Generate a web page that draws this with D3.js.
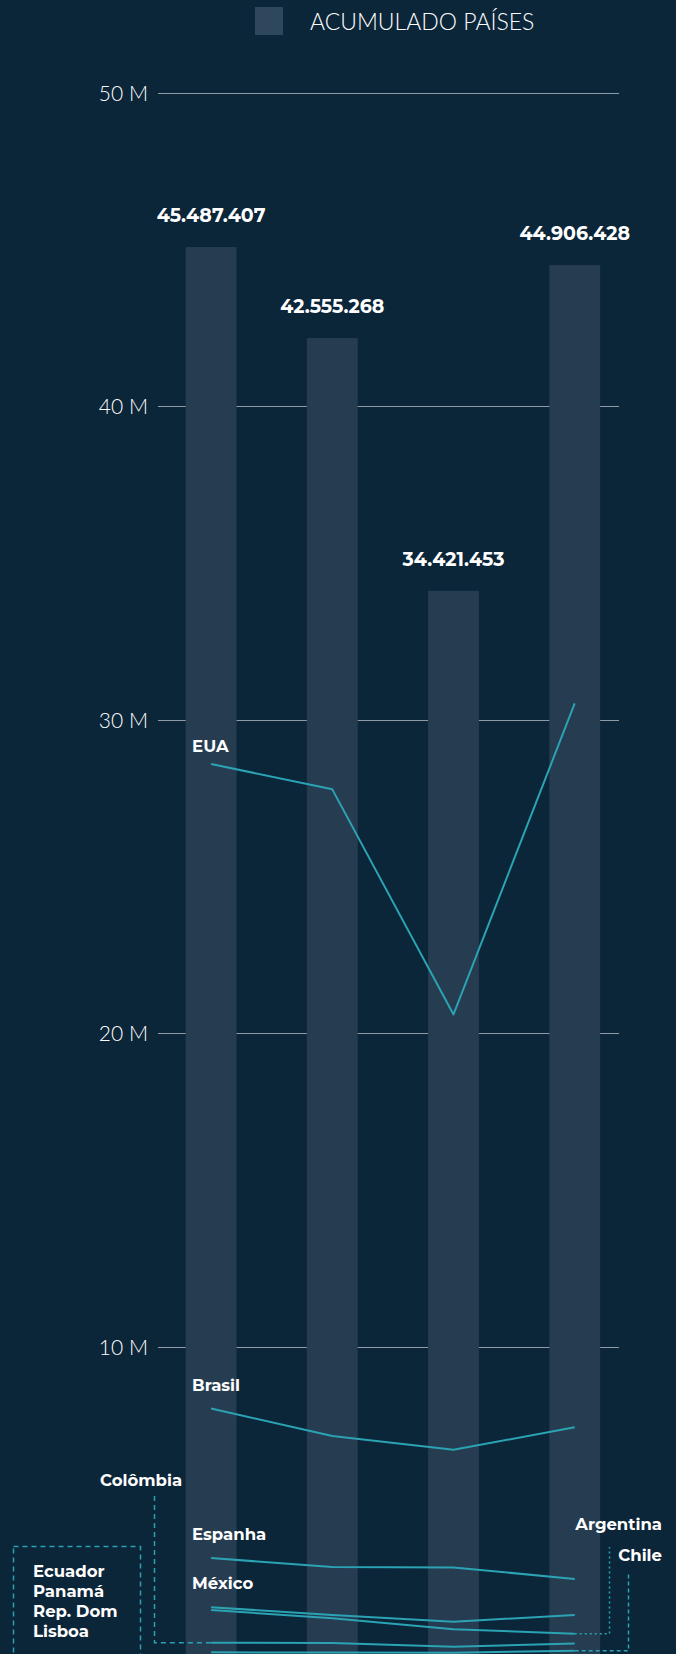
<!DOCTYPE html>
<html>
<head>
<meta charset="utf-8">
<script src="https://cdn.jsdelivr.net/npm/d3@7"></script>
<style>
  html, body { margin: 0; padding: 0; background: #0b2539; }
  svg { display: block; }
</style>
</head>
<body>
<svg id="chart" width="676" height="1654"></svg>
<script>
// ---- data ----
const categories = ["P1", "P2", "P3", "P4"];
const totals = [45487407, 42555268, 34421453, 44906428];
const totalLabels = ["45.487.407", "42.555.268", "34.421.453", "44.906.428"];
const legendLabel = "ACUMULADO PAÍSES";
const tickValues = [10e6, 20e6, 30e6, 40e6, 50e6];
const tickLabels = ["10 M", "20 M", "30 M", "40 M", "50 M"];
const barAxisMax = 50.45e6;

const seriesNames = ["EUA", "Brasil", "Espanha", "México", "Argentina", "Colômbia", "Chile", "Ecuador", "Panamá", "Rep. Dom", "Lisboa"];
const eua       = [28.59e6, 27.78e6, 20.60e6, 30.52e6];
const brasil    = [8.03e6, 7.15e6, 6.71e6, 7.43e6];
const espanha   = [3.26e6, 2.97e6, 2.96e6, 2.59e6];
const mexico    = [1.69e6, 1.44e6, 1.23e6, 1.44e6];
const argentina = [1.60e6, 1.34e6, 0.985e6, 0.845e6];
const colombia  = [0.56e6, 0.55e6, 0.43e6, 0.53e6];
const chile     = [0.25e6, 0.245e6, 0.24e6, 0.30e6];
const ecuador   = [0.15e6, 0.14e6, 0.12e6, 0.16e6];
const panama    = [0.12e6, 0.11e6, 0.09e6, 0.12e6];
const repdom    = [0.09e6, 0.08e6, 0.07e6, 0.09e6];
const lisboa    = [0.05e6, 0.05e6, 0.04e6, 0.05e6];
const boxLabels = ["Ecuador", "Panamá", "Rep. Dom", "Lisboa"];

// ---- setup ----
const svg = d3.select("#chart");
const W = 676;
const bg = "#0b2539", barColor = "#263c51", lineColor = "#2ba3b3", gridColor = "#8f9ca6";
const boldFont = "Montserrat, Inter, 'Open Sans', sans-serif";
const lightFont = "Lato, 'Open Sans', sans-serif";

svg.append("rect").attr("width", W).attr("height", 1654).attr("fill", bg);

const x = d3.scaleBand().domain(categories).range([161.4, 624.4]).paddingInner(0.58).paddingOuter(0.2);
const y = d3.scaleLinear().domain([0, 50e6]).range([1660.2, 92.8]);
const yBar = d3.scaleLinear().domain([0, barAxisMax]).range([1660.2, 92.8]);
const cx = d => x(d) + x.bandwidth() / 2;

// gridlines + tick labels via axis
const axis = d3.axisLeft(y).tickValues(tickValues).tickSize(-(619 - 158)).tickFormat((d, i) => tickLabels[i]);
const gAxis = svg.append("g").attr("transform", "translate(158,0)").call(axis);
gAxis.select(".domain").remove();
gAxis.selectAll(".tick line").attr("stroke", gridColor).attr("stroke-width", 1).attr("shape-rendering", "crispEdges");
gAxis.selectAll(".tick text")
  .attr("x", -10).attr("dy", "0.36em")
  .attr("fill", "#ffffff").attr("font-family", lightFont).attr("font-weight", 300).attr("font-size", 21);

// legend
svg.append("rect").attr("x", 255).attr("y", 7).attr("width", 28).attr("height", 28).attr("fill", "#2f475c");
svg.append("text").attr("x", 310).attr("y", 29.5).text(legendLabel)
  .attr("fill", "#ffffff").attr("font-family", lightFont).attr("font-weight", 300).attr("font-size", 23);

// bars
svg.append("g").selectAll("rect").data(totals).join("rect")
  .attr("x", (d, i) => x(categories[i]))
  .attr("width", x.bandwidth())
  .attr("y", d => yBar(d))
  .attr("height", d => yBar(0) - yBar(d))
  .attr("fill", barColor);

svg.append("g").selectAll("text").data(totals).join("text")
  .attr("x", (d, i) => cx(categories[i]))
  .attr("y", d => yBar(d) - 25)
  .attr("text-anchor", "middle")
  .attr("fill", "#ffffff").attr("font-family", boldFont).attr("font-weight", 700).attr("font-size", 19)
  .text((d, i) => totalLabels[i]);

// lines
const allSeries = [eua, brasil, espanha, mexico, argentina, colombia, chile, ecuador, panama, repdom, lisboa];
const line = d3.line().x((d, i) => cx(categories[i])).y(d => y(d));
svg.append("g").selectAll("path").data(allSeries).join("path")
  .attr("d", d => line(d))
  .attr("fill", "none").attr("stroke", lineColor).attr("stroke-width", 2).attr("stroke-linejoin", "round");

// inline labels
const labelStyle = sel => sel.attr("fill", "#ffffff").attr("font-family", boldFont).attr("font-weight", 700).attr("font-size", 16.5);
const inline = [["EUA", eua, 12], ["Brasil", brasil, 17], ["Espanha", espanha, 18], ["México", mexico, 18]];
inline.forEach(([name, s, off]) => {
  svg.append("text").attr("x", cx(categories[0]) - 19).attr("y", y(s[0]) - off).text(name).call(labelStyle);
});

// Colômbia with connector
svg.append("text").attr("x", 100).attr("y", 1486).text("Colômbia").call(labelStyle);
svg.append("path")
  .attr("d", `M154.5,1496 V${y(colombia[0])} H${cx(categories[0])}`)
  .attr("fill", "none").attr("stroke", lineColor).attr("stroke-width", 1.5).attr("stroke-dasharray", "5,4");

// Argentina & Chile with connectors
const lastX = cx(categories[3]);
svg.append("text").attr("x", 662).attr("y", 1530).attr("text-anchor", "end").text("Argentina").call(labelStyle);
svg.append("path")
  .attr("d", `M${lastX},${y(argentina[3])} H609.5 V1547`)
  .attr("fill", "none").attr("stroke", lineColor).attr("stroke-width", 1.5).attr("stroke-dasharray", "2,3");
svg.append("text").attr("x", 662).attr("y", 1561).attr("text-anchor", "end").text("Chile").call(labelStyle);
svg.append("path")
  .attr("d", `M${lastX},${y(chile[3])} H628.5 V1573`)
  .attr("fill", "none").attr("stroke", lineColor).attr("stroke-width", 1.5).attr("stroke-dasharray", "4,3");

// box of small series
svg.append("rect").attr("x", 13.5).attr("y", 1546.5).attr("width", 127).attr("height", 160)
  .attr("fill", "none").attr("stroke", lineColor).attr("stroke-width", 1.5).attr("stroke-dasharray", "5,4");
svg.append("g").selectAll("text").data(boxLabels).join("text")
  .attr("x", 33).attr("y", (d, i) => 1577 + i * 20).text(d => d).call(labelStyle);
</script>
</body>
</html>
